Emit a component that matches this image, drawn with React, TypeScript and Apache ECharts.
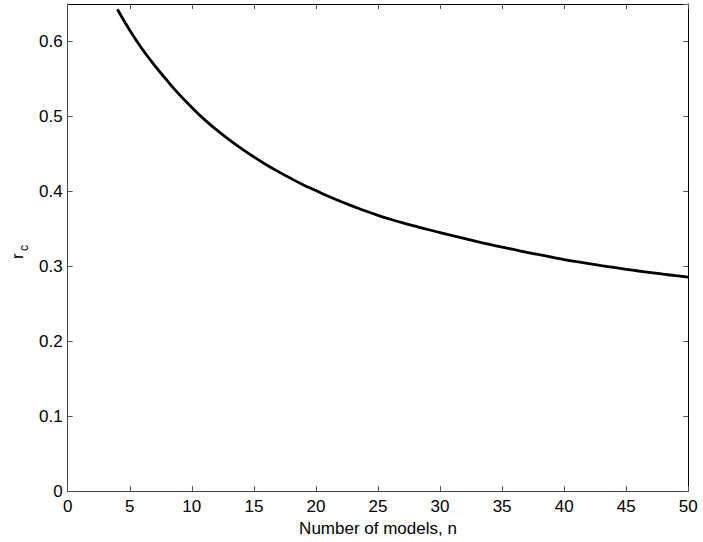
import React, { useEffect, useRef } from "react";
import * as echarts from "echarts";

const nValues = [4, 5, 6, 7, 8, 9, 10, 11, 12, 13, 14, 15, 16, 17, 18, 19, 20, 21, 22, 23, 24, 25, 26, 27, 28, 29, 30, 31, 32, 33, 34, 35, 36, 37, 38, 39, 40, 41, 42, 43, 44, 45, 46, 47, 48, 49, 50];
const rcValues = [0.643, 0.615, 0.59, 0.568, 0.548, 0.529, 0.512, 0.496, 0.482, 0.469, 0.457, 0.446, 0.4355, 0.426, 0.417, 0.4085, 0.401, 0.3935, 0.3865, 0.38, 0.3737, 0.368, 0.3628, 0.358, 0.3535, 0.3491, 0.345, 0.3408, 0.3368, 0.3329, 0.3292, 0.3256, 0.3221, 0.3187, 0.3154, 0.3122, 0.309, 0.3062, 0.3035, 0.3009, 0.2984, 0.296, 0.2937, 0.2915, 0.2894, 0.2874, 0.2855];

const xTitle = "Number of models, n";
const FONT = "'Liberation Sans', Arial, Helvetica, sans-serif";

export default function App() {
  const ref = useRef<HTMLDivElement>(null);
  useEffect(() => {
    if (!ref.current) return;
    const chart = echarts.init(ref.current, null, { renderer: "svg" });
    const axisCommon = {
      type: "value" as const,
      splitLine: { show: false },
      axisTick: { inside: true, length: 5, lineStyle: { color: "#555", width: 1 } },
    };
    chart.setOption({
      animation: false,
      backgroundColor: "#fff",
      grid: { left: 67.7, right: 14.7, top: 4, bottom: 49, containLabel: false },
      xAxis: [
        {
          ...axisCommon,
          position: "bottom",
          min: 0,
          max: 50,
          interval: 5,
          axisLine: { show: true, onZero: false, lineStyle: { color: "#444", width: 1 } },
          axisLabel: { margin: 7, color: "#000", fontSize: 17, fontFamily: FONT },
          name: xTitle,
          nameLocation: "middle",
          nameGap: 26,
          nameTextStyle: { color: "#000", fontSize: 17, fontFamily: FONT },
        },
        {
          ...axisCommon,
          position: "top",
          min: 0,
          max: 50,
          interval: 5,
          axisLine: { show: true, onZero: false, lineStyle: { color: "#000", width: 1 } },
          axisLabel: { show: false },
        },
      ],
      yAxis: [
        {
          ...axisCommon,
          position: "left",
          min: 0,
          max: 0.65,
          interval: 0.1,
          axisLine: { show: true, onZero: false, lineStyle: { color: "#444", width: 1 } },
          axisLabel: { margin: 5, color: "#000", fontSize: 17, fontFamily: FONT, showMaxLabel: false },
        },
        {
          ...axisCommon,
          position: "right",
          min: 0,
          max: 0.65,
          interval: 0.1,
          axisLine: { show: true, onZero: false, lineStyle: { color: "#000", width: 1 } },
          axisLabel: { show: false },
        },
      ],
      graphic: [
        {
          type: "text",
          x: 9,
          y: 259,
          rotation: Math.PI / 2,
          style: { text: "r", fontSize: 17, fontFamily: FONT, fill: "#000", textAlign: "left", textVerticalAlign: "top" },
        },
        {
          type: "text",
          x: 18,
          y: 251,
          rotation: Math.PI / 2,
          style: { text: "c", fontSize: 12, fontFamily: FONT, fill: "#000", textAlign: "left", textVerticalAlign: "top" },
        },
      ],
      series: [
        {
          type: "line",
          xAxisIndex: 0,
          yAxisIndex: 0,
          data: nValues.map((n, i) => [n, rcValues[i]]),
          showSymbol: false,
          smooth: 0.4,
          lineStyle: { color: "#000", width: 2.8 },
        },
      ],
    });
    return () => chart.dispose();
  }, []);
  return <div ref={ref} style={{ position: "fixed", left: 0, top: 0, width: 703, height: 542 }} />;
}
